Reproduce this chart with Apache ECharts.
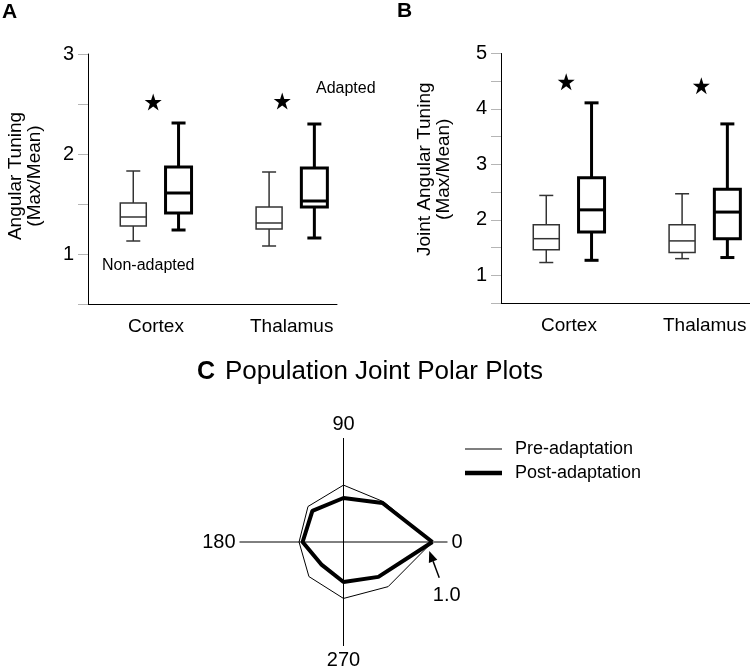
<!DOCTYPE html>
<html>
<head>
<meta charset="utf-8">
<script src="https://cdn.jsdelivr.net/npm/echarts@6/dist/echarts.min.js"></script>
<style>
  html, body { margin: 0; padding: 0; background: #fff; }
  #chart { width: 750px; height: 669px; }
</style>
</head>
<body>
<div id="chart"></div>
<script>
const FONT = 'Liberation Sans, Arial, Helvetica, sans-serif';

// ---- data ----
const regions = ['Cortex', 'Thalamus'];
// each row: [min, Q1, median, Q3, max]
const tuningNonAdapted = [[1.13, 1.28, 1.37, 1.51, 1.83], [1.08, 1.25, 1.31, 1.47, 1.82]];
const tuningAdapted = [[1.24, 1.41, 1.61, 1.87, 2.31], [1.16, 1.47, 1.53, 1.86, 2.30]];
const jointNonAdapted = [[1.23, 1.46, 1.66, 1.91, 2.44], [1.30, 1.41, 1.62, 1.91, 2.47]];
const jointAdapted = [[1.27, 1.78, 2.18, 2.76, 4.11], [1.32, 1.66, 2.14, 2.55, 3.73]];
const tuningStars = [2.52, 2.53];
const jointStars = [4.49, 4.42];

const polarAngles = [0, 45, 90, 135, 180, 225, 270, 315];
const preAdaptation = [1.0, 0.64, 0.64, 0.565, 0.5, 0.55, 0.635, 0.71];
const postAdaptation = [1.0, 0.62, 0.495, 0.495, 0.46, 0.355, 0.45, 0.555];

// ---- layout ----
const regionCenter = [3, 9];      // x positions (axis units) of the two groups
const BOX_W = 26;
const CAP_W = 14;
const STAR = 'path://M50,0 L61.8,35.1 L98.9,35.1 L69.1,56.7 L80.9,91.9 L50,70 L19.1,91.9 L30.9,56.7 L1.1,35.1 L38.2,35.1 Z';
const POLAR_MAX = 1.17;

const chart = echarts.init(document.getElementById('chart'));

function boxRenderer(lineWidth, color) {
    return function (params, api) {
        const x = api.value(0);
        const lo = api.coord([x, api.value(1)]);
        const q1 = api.coord([x, api.value(2)]);
        const med = api.coord([x, api.value(3)]);
        const q3 = api.coord([x, api.value(4)]);
        const hi = api.coord([x, api.value(5)]);
        const cx = lo[0];
        const hw = BOX_W / 2, cw = CAP_W / 2;
        const st = { stroke: color, lineWidth: lineWidth, fill: null };
        return {
            type: 'group',
            children: [
                { type: 'line', shape: { x1: cx, y1: q3[1], x2: cx, y2: hi[1] }, style: st },
                { type: 'line', shape: { x1: cx, y1: q1[1], x2: cx, y2: lo[1] }, style: st },
                { type: 'line', shape: { x1: cx - cw, y1: hi[1], x2: cx + cw, y2: hi[1] }, style: st },
                { type: 'line', shape: { x1: cx - cw, y1: lo[1], x2: cx + cw, y2: lo[1] }, style: st },
                { type: 'rect', shape: { x: cx - hw, y: q3[1], width: BOX_W, height: q1[1] - q3[1] },
                  style: { stroke: color, lineWidth: lineWidth, fill: '#fff' } },
                { type: 'line', shape: { x1: cx - hw, y1: med[1], x2: cx + hw, y2: med[1] }, style: st }
            ]
        };
    };
}

function boxSeries(idx, rows, offset, thick) {
    return {
        type: 'custom',
        xAxisIndex: idx,
        yAxisIndex: idx,
        renderItem: thick ? boxRenderer(3, '#000') : boxRenderer(1.5, '#333'),
        encode: { x: 0, y: [1, 2, 3, 4, 5] },
        data: rows.map((r, i) => [regionCenter[i] + offset].concat(r)),
        silent: true
    };
}

function starSeries(idx, values, shifts) {
    return {
        type: 'scatter',
        xAxisIndex: idx,
        yAxisIndex: idx,
        symbol: STAR,
        symbolSize: 17,
        itemStyle: { color: '#000', opacity: 1 },
        data: values.map((v, i) => [regionCenter[i] + shifts[i], v]),
        silent: true
    };
}

function xAxisFor(idx) {
    return {
        type: 'value', gridIndex: idx, min: 0, max: 11,
        axisLine: { show: true, onZero: false, lineStyle: { color: '#000', width: 1 } },
        axisTick: { show: false },
        splitLine: { show: false },
        axisLabel: {
            customValues: regionCenter,
            formatter: v => regions[regionCenter.indexOf(v)] || '',
            margin: 13, fontFamily: FONT, fontSize: 19, color: '#000'
        }
    };
}

function yAxisFor(idx, max, name, gap, pad) {
    return {
        type: 'value', gridIndex: idx, min: 0.5, max: max, interval: 0.5,
        name: name, nameLocation: 'middle', nameGap: gap, nameRotate: 90,
        nameTextStyle: { fontFamily: FONT, fontSize: 19, lineHeight: 19, color: '#000', padding: pad },
        axisLine: { show: true, onZero: false, lineStyle: { color: '#000', width: 1 } },
        axisTick: { show: true, length: 10, lineStyle: { color: '#b5b5b5' } },
        splitLine: { show: false },
        axisLabel: {
            margin: 14, fontFamily: FONT, fontSize: 20, color: '#000',
            formatter: v => Number.isInteger(v) ? String(v) : ''
        }
    };
}

function closed(values) {
    const pts = values.map((r, i) => [r, polarAngles[i]]);
    pts.push([values[0], 360]);
    return pts;
}

const baseGraphic = [
    { id: 'labA', type: 'text', x: 2, y: 12.5, style: { text: 'A', font: 'bold 21px ' + FONT, fill: '#000', verticalAlign: 'middle' } },
    { id: 'labB', type: 'text', x: 397, y: 11, style: { text: 'B', font: 'bold 21px ' + FONT, fill: '#000', verticalAlign: 'middle' } },
    { id: 'nonAd', type: 'text', x: 102, y: 266, style: { text: 'Non-adapted', font: '16px ' + FONT, fill: '#000', verticalAlign: 'middle' } },
    { id: 'ad', type: 'text', x: 316, y: 89, style: { text: 'Adapted', font: '16px ' + FONT, fill: '#000', verticalAlign: 'middle' } },
    { id: 'labC', type: 'text', x: 197, y: 372, style: { text: 'C', font: 'bold 25px ' + FONT, fill: '#000', verticalAlign: 'middle' } },
    { id: 'titleC', type: 'text', x: 225, y: 372, style: { text: 'Population Joint Polar Plots', font: '26px ' + FONT, fill: '#000', verticalAlign: 'middle' } }
];

const option = {
    animation: false,
    backgroundColor: '#fff',
    textStyle: { fontFamily: FONT },
    grid: [
        { left: 88, top: 54, width: 249, height: 250 },
        { left: 501, top: 53.5, width: 249, height: 249.5 }
    ],
    xAxis: [xAxisFor(0), xAxisFor(1)],
    yAxis: [
        yAxisFor(0, 3, 'Angular Tuning\n(Max/Mean)', 44, [0, 0, 0, 6]),
        yAxisFor(1, 5, 'Joint Angular Tuning\n(Max/Mean)', 48, [0, 0, 0, 18])
    ],
    polar: { center: [343.5, 542], radius: 104 },
    angleAxis: {
        type: 'value', min: 0, max: 360, interval: 90, startAngle: 0, clockwise: false,
        axisLine: { show: false },
        axisTick: { show: false },
        splitLine: { show: true, lineStyle: { color: '#000', width: 1 } },
        axisLabel: {
            margin: 4, fontFamily: FONT, fontSize: 20, color: '#000',
            formatter: v => (v === 360 ? '' : String(v))
        }
    },
    radiusAxis: {
        type: 'value', min: 0, max: POLAR_MAX,
        axisLine: { show: false }, axisTick: { show: false },
        axisLabel: { show: false }, splitLine: { show: false }
    },
    legend: {
        data: [
            { name: 'Pre-adaptation', icon: 'path://M0,0H37V1H0Z' },
            { name: 'Post-adaptation', icon: 'path://M0,0H37V4.5H0Z' }
        ],
        orient: 'vertical',
        left: 465, top: 439,
        padding: 0,
        itemWidth: 37, itemHeight: 14, itemGap: 4,
        selectedMode: false,
        itemStyle: { borderWidth: 0 },
        textStyle: { fontFamily: FONT, fontSize: 18, color: '#000', lineHeight: 20, padding: [0, 0, 0, 8] }
    },
    series: [
        boxSeries(0, tuningNonAdapted, -1, false),
        boxSeries(0, tuningAdapted, 1, true),
        starSeries(0, tuningStars, [-0.12, -0.42]),
        boxSeries(1, jointNonAdapted, -1, false),
        boxSeries(1, jointAdapted, 1, true),
        starSeries(1, jointStars, [-0.12, -0.15]),
        {
            name: 'Pre-adaptation', type: 'line', coordinateSystem: 'polar',
            data: closed(preAdaptation), symbol: 'none', silent: true,
            lineStyle: { color: '#000', width: 1 }, itemStyle: { color: '#000' }
        },
        {
            name: 'Post-adaptation', type: 'line', coordinateSystem: 'polar',
            data: closed(postAdaptation), symbol: 'none', silent: true,
            lineStyle: { color: '#000', width: 4 }, itemStyle: { color: '#000' }
        }
    ],
    graphic: baseGraphic
};

chart.setOption(option);

// arrow pointing at the 1.0 vertex, placed through the polar scale
const tip = chart.convertToPixel({ seriesIndex: 6 }, [0.97, 354]);
const tail = chart.convertToPixel({ seriesIndex: 6 }, [1.15, 339.5]);
const lab = chart.convertToPixel({ seriesIndex: 6 }, [1.31, 332.4]);
if (tip && tail && lab) {
    const dx = tip[0] - tail[0], dy = tip[1] - tail[1];
    const len = Math.sqrt(dx * dx + dy * dy);
    const ux = dx / len, uy = dy / len;
    const hl = 11, hw = 4.5;
    const bx = tip[0] - ux * hl, by = tip[1] - uy * hl;
    chart.setOption({
        graphic: baseGraphic.concat([
            { id: 'arrowLine', type: 'line', shape: { x1: tail[0], y1: tail[1], x2: bx, y2: by }, style: { stroke: '#000', lineWidth: 1.5 } },
            { id: 'arrowHead', type: 'polygon', shape: { points: [tip, [bx - uy * hw, by + ux * hw], [bx + uy * hw, by - ux * hw]] }, style: { fill: '#000' } },
            { id: 'arrowText', type: 'text', x: lab[0], y: lab[1], style: { text: '1.0', font: '20px ' + FONT, fill: '#000', align: 'center', verticalAlign: 'middle' } }
        ])
    });
}

window.addEventListener('resize', () => chart.resize());
</script>
</body>
</html>
